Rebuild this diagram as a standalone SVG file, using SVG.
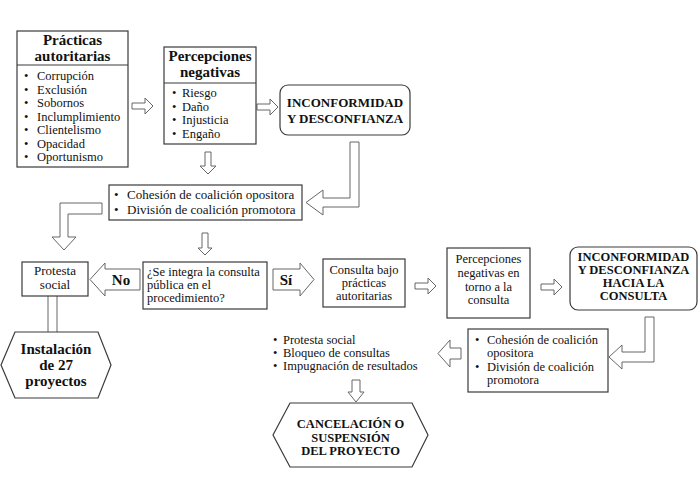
<svg xmlns="http://www.w3.org/2000/svg" width="700" height="479" viewBox="0 0 700 479">
<style>
text{font-family:"Liberation Serif","Times New Roman",serif;fill:#111;}
.t{font-size:13px;}
.s{font-size:12.5px;}
.h{font-size:15px;font-weight:bold;}
.b{font-size:13px;font-weight:bold;}
.b2{font-size:12.5px;font-weight:bold;}
.c{text-anchor:middle;}
.box{fill:#fff;stroke:#3a3a3a;stroke-width:1.2;}
.arr{fill:#fff;stroke:#666;stroke-width:1;}
</style>
<rect width="700" height="479" fill="#fff"/>
<g id="connectors">
<path class="arr" d="M132,103 L145,103 L145,98 L153,106 L145,114 L145,109 L132,109 Z"/>
<path class="arr" d="M257,104 L270,104 L270,99 L278,107 L270,115 L270,110 L257,110 Z"/>
<path class="arr" d="M205,152 L211,152 L211,166 L216,166 L208,174 L200,166 L205,166 Z"/>
<path class="arr" d="M350,142 L359,142 L359,207 L323,207 L323,215 L306,202.5 L323,190 L323,198 L350,198 Z"/>
<path class="arr" d="M102,203 L60,203 L60,237 L52,237 L64,250 L76,237 L68,237 L68,214 L102,214 Z"/>
<path class="arr" d="M202,233 L208,233 L208,248 L212,248 L205,255 L198,248 L202,248 Z"/>
<path class="arr" d="M140,269 L105,269 L105,263 L90,279.5 L105,296 L105,290 L140,290 Z"/>
<path class="arr" d="M273,269 L300,269 L300,263 L314,279.5 L300,296 L300,290 L273,290 Z"/>
<path class="arr" d="M415,283 L428,283 L428,278 L436,286 L428,294 L428,289 L415,289 Z"/>
<path class="arr" d="M541,284 L554,284 L554,279 L562,287 L554,295 L554,290 L541,290 Z"/>
<path class="arr" d="M645,317 L654,317 L654,362 L622,362 L622,369 L609,357 L622,345 L622,352 L645,352 Z"/>
<path class="arr" d="M461,348 L450,348 L450,340 L438,353.5 L450,367 L450,359 L461,359 Z"/>
<path class="arr" d="M352,380 L360,380 L360,392 L364,392 L356,402 L348,392 L352,392 Z"/>
<path class="arr" d="M48,296 L48,332 M57,296 L57,332"/>
<text class="h c" x="121" y="285">No</text>
<text class="h c" x="286" y="285">Sí</text>
</g>
<g id="practicas">
<rect class="box" x="17" y="31" width="111" height="136"/>
<line x1="17" y1="65" x2="128" y2="65" stroke="#3a3a3a" stroke-width="1.2"/>
<text class="h c" x="72.5" y="45">Prácticas</text>
<text class="h c" x="72.5" y="61">autoritarias</text>
<text class="s" y="80"><tspan x="24">•</tspan><tspan x="37">Corrupción</tspan></text>
<text class="s" y="93.5"><tspan x="24">•</tspan><tspan x="37">Exclusión</tspan></text>
<text class="s" y="107"><tspan x="24">•</tspan><tspan x="37">Sobornos</tspan></text>
<text class="s" y="120.5"><tspan x="24">•</tspan><tspan x="37">Inclumplimiento</tspan></text>
<text class="s" y="134"><tspan x="24">•</tspan><tspan x="37">Clientelismo</tspan></text>
<text class="s" y="147.5"><tspan x="24">•</tspan><tspan x="37">Opacidad</tspan></text>
<text class="s" y="161"><tspan x="24">•</tspan><tspan x="37">Oportunismo</tspan></text>
</g>
<g id="percepciones">
<rect class="box" x="164" y="47" width="92" height="97"/>
<line x1="164" y1="83" x2="256" y2="83" stroke="#3a3a3a" stroke-width="1.2"/>
<text class="h c" x="210" y="61">Percepciones</text>
<text class="h c" x="210" y="77">negativas</text>
<text class="s" y="97"><tspan x="172">•</tspan><tspan x="182">Riesgo</tspan></text>
<text class="s" y="110.5"><tspan x="172">•</tspan><tspan x="182">Daño</tspan></text>
<text class="s" y="124"><tspan x="172">•</tspan><tspan x="182">Injusticia</tspan></text>
<text class="s" y="137.5"><tspan x="172">•</tspan><tspan x="182">Engaño</tspan></text>
</g>
<g id="inconformidad">
<rect class="box" x="280" y="85" width="130" height="50" rx="8"/>
<text class="b c" x="345" y="107">INCONFORMIDAD</text>
<text class="b c" x="345" y="123">Y DESCONFIANZA</text>
</g>
<g id="cohesion1">
<rect class="box" x="109" y="185" width="193" height="35"/>
<text class="t" y="199"><tspan x="114">•</tspan><tspan x="127">Cohesión de coalición opositora</tspan></text>
<text class="t" y="214"><tspan x="114">•</tspan><tspan x="127">División de coalición promotora</tspan></text>
</g>
<g id="protesta">
<rect class="box" x="22" y="262" width="66" height="34"/>
<text class="t c" x="55" y="275">Protesta</text>
<text class="t c" x="55" y="289">social</text>
</g>
<g id="instalacion">
<polygon class="box" points="1,365 15,332 98,332 111,365 98,398 15,398"/>
<text class="h c" x="56" y="354">Instalación</text>
<text class="h c" x="56" y="370">de 27</text>
<text class="h c" x="56" y="386">proyectos</text>
</g>
<g id="pregunta">
<rect class="box" x="143" y="262" width="124" height="47"/>
<text class="s" x="147" y="276">¿Se integra la consulta</text>
<text class="s" x="147" y="289">pública en el</text>
<text class="s" x="147" y="302">procedimiento?</text>
</g>
<g id="consulta">
<rect class="box" x="323" y="259" width="82" height="48"/>
<text class="s c" x="364" y="274">Consulta bajo</text>
<text class="s c" x="364" y="287">prácticas</text>
<text class="s c" x="364" y="300">autoritarias</text>
</g>
<g id="percepciones2">
<rect class="box" x="447" y="248" width="83" height="70"/>
<text class="s c" x="488.5" y="263">Percepciones</text>
<text class="s c" x="488.5" y="277">negativas en</text>
<text class="s c" x="488.5" y="290.5">torno a la</text>
<text class="s c" x="488.5" y="304">consulta</text>
</g>
<g id="inconformidad2">
<rect class="box" x="570" y="247" width="127" height="63" rx="8"/>
<text class="b2 c" x="633.5" y="261">INCONFORMIDAD</text>
<text class="b2 c" x="633.5" y="274">Y DESCONFIANZA</text>
<text class="b2 c" x="633.5" y="287">HACIA LA</text>
<text class="b2 c" x="633.5" y="300">CONSULTA</text>
</g>
<g id="cohesion2">
<rect class="box" x="468" y="329" width="140" height="63"/>
<text class="s" y="344"><tspan x="475">•</tspan><tspan x="487">Cohesión de coalición</tspan></text>
<text class="s" x="487" y="357">opositora</text>
<text class="s" y="371"><tspan x="475">•</tspan><tspan x="487">División de coalición</tspan></text>
<text class="s" x="487" y="384">promotora</text>
</g>
<g id="resultados">
<text class="s" y="344"><tspan x="273">•</tspan><tspan x="283">Protesta social</tspan></text>
<text class="s" y="357"><tspan x="273">•</tspan><tspan x="283">Bloqueo de consultas</tspan></text>
<text class="s" y="370"><tspan x="273">•</tspan><tspan x="283">Impugnación de resultados</tspan></text>
</g>
<g id="cancelacion">
<polygon class="box" points="273,435 290,403 412,403 428,435 412,467 290,467"/>
<text class="b2 c" x="350.5" y="428">CANCELACIÓN O</text>
<text class="b2 c" x="350.5" y="441.5">SUSPENSIÓN</text>
<text class="b2 c" x="350.5" y="455">DEL PROYECTO</text>
</g>
</svg>
